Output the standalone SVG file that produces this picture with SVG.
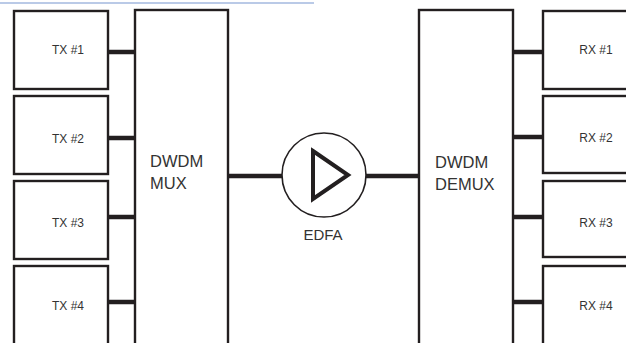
<svg xmlns="http://www.w3.org/2000/svg" width="626" height="343" viewBox="0 0 626 343">
<style>
.box{fill:#fff;stroke:#231f20;stroke-width:2.4}
.conn{stroke:#231f20;stroke-width:4.5;fill:none}
.lbl{font-family:"Liberation Sans",Arial,sans-serif;font-size:12px;fill:#333;text-anchor:middle}
.big{font-family:"Liberation Sans",Arial,sans-serif;font-size:16.5px;fill:#333}
</style>
<rect width="626" height="343" fill="#fff"/>
<line x1="0" y1="3" x2="314" y2="3" stroke="#a3b9df" stroke-width="1.5"/>
<g id="connectors">
<line class="conn" x1="108" y1="52" x2="135" y2="52"/>
<line class="conn" x1="108" y1="138" x2="135" y2="138"/>
<line class="conn" x1="108" y1="217" x2="135" y2="217"/>
<line class="conn" x1="108" y1="302" x2="135" y2="302"/>
<line class="conn" x1="228" y1="176" x2="282" y2="176"/>
<line class="conn" x1="366" y1="176" x2="419" y2="176"/>
<line class="conn" x1="513" y1="52" x2="543" y2="52"/>
<line class="conn" x1="513" y1="137" x2="543" y2="137"/>
<line class="conn" x1="513" y1="217" x2="543" y2="217"/>
<line class="conn" x1="513" y1="302" x2="543" y2="302"/>
</g>
<g id="tx1"><rect class="box" x="14" y="11" width="94" height="78"/><text class="lbl" x="68" y="54">TX #1</text></g>
<g id="tx2"><rect class="box" x="14" y="96" width="94" height="78"/><text class="lbl" x="68" y="143">TX #2</text></g>
<g id="tx3"><rect class="box" x="14" y="181" width="94" height="78"/><text class="lbl" x="68" y="227">TX #3</text></g>
<g id="tx4"><rect class="box" x="14" y="266" width="94" height="90"/><text class="lbl" x="68" y="310">TX #4</text></g>
<g id="mux"><rect class="box" x="135" y="10" width="93" height="350"/><text class="big" x="150" y="167">DWDM</text><text class="big" x="150" y="189">MUX</text></g>
<g id="edfa">
<circle cx="324" cy="175" r="42" fill="#fff" stroke="#231f20" stroke-width="1.6"/>
<polygon points="313,151 348,175 313,199" fill="none" stroke="#231f20" stroke-width="4" stroke-linejoin="miter"/>
<text x="323" y="240" font-family="Liberation Sans, Arial, sans-serif" font-size="15" fill="#333" text-anchor="middle">EDFA</text>
</g>
<g id="demux"><rect class="box" x="419" y="10" width="94" height="350"/><text class="big" x="435" y="168">DWDM</text><text class="big" x="435" y="190">DEMUX</text></g>
<g id="rx1"><rect class="box" x="543" y="11" width="100" height="78"/><text class="lbl" x="596" y="54">RX #1</text></g>
<g id="rx2"><rect class="box" x="543" y="96" width="100" height="77"/><text class="lbl" x="596" y="142">RX #2</text></g>
<g id="rx3"><rect class="box" x="543" y="181" width="100" height="76"/><text class="lbl" x="596" y="227">RX #3</text></g>
<g id="rx4"><rect class="box" x="543" y="266" width="100" height="90"/><text class="lbl" x="596" y="310">RX #4</text></g>
</svg>
